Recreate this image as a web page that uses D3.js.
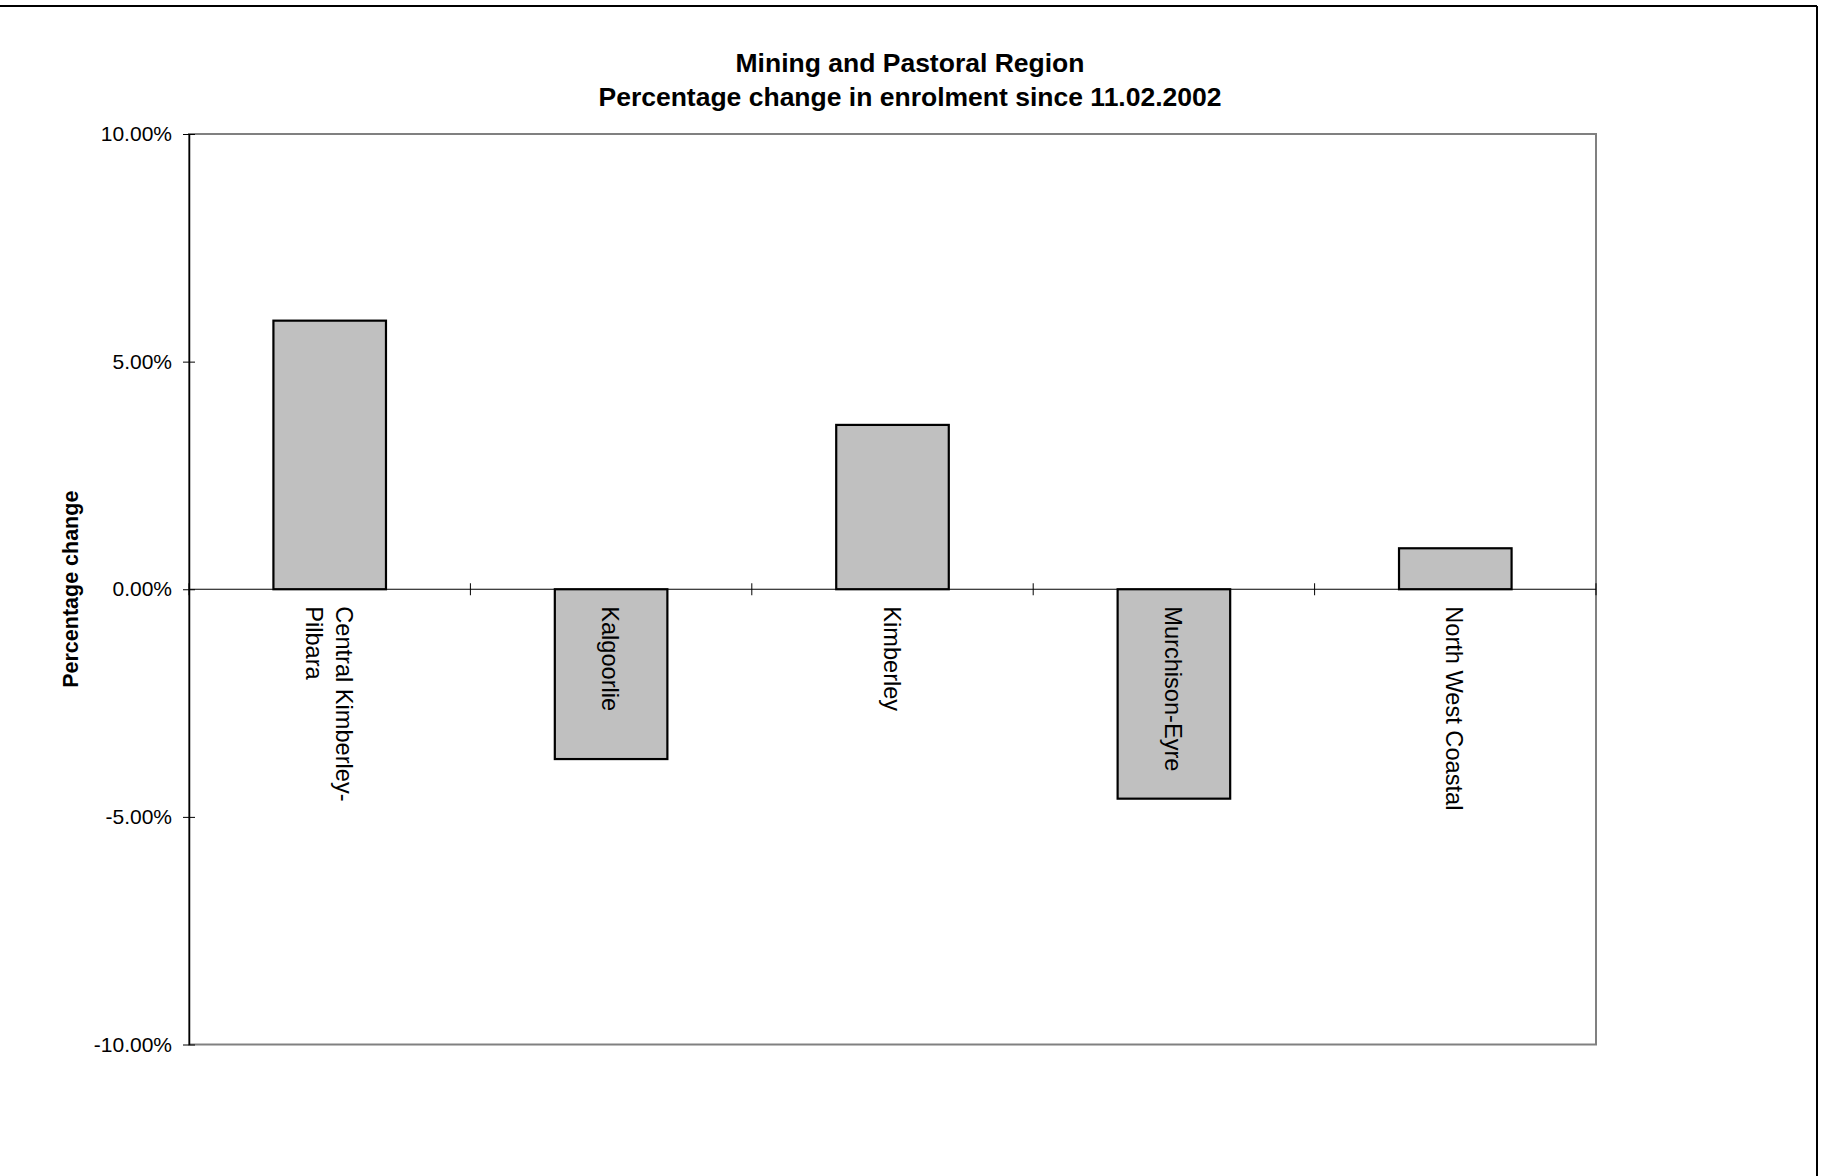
<!DOCTYPE html>
<html>
<head>
<meta charset="utf-8">
<script src="https://cdn.jsdelivr.net/npm/d3@7"></script>
<style>
  html, body { margin: 0; padding: 0; background: #fff; }
  svg { display: block; font-family: "Liberation Sans", Arial, sans-serif; }
</style>
</head>
<body>
<script>
// Chart data
const categories = [
  ['Central Kimberley-', 'Pilbara'],
  ['Kalgoorlie'],
  ['Kimberley'],
  ['Murchison-Eyre'],
  ['North West Coastal']
];
const changeValues = [0.0590, -0.0373, 0.0361, -0.0460, 0.0090];
const yTickValues = [-0.10, -0.05, 0, 0.05, 0.10];
const titleLines = ['Mining and Pastoral Region', 'Percentage change in enrolment since 11.02.2002'];
const yAxisTitle = 'Percentage change';

const width = 1821, height = 1176;
const plot = { left: 189, right: 1596, top: 134, bottom: 1044.5 };

const svg = d3.select('body').append('svg')
  .attr('width', width)
  .attr('height', height);

// Outer frame (top and right edges only visible)
svg.append('line')
  .attr('x1', 0).attr('x2', 1817).attr('y1', 6).attr('y2', 6)
  .attr('stroke', '#000').attr('stroke-width', 2);
svg.append('line')
  .attr('x1', 1817).attr('x2', 1817).attr('y1', 6).attr('y2', height)
  .attr('stroke', '#000').attr('stroke-width', 2);

const keys = categories.map(c => c.join(' '));

const x = d3.scaleBand()
  .domain(keys)
  .range([plot.left, plot.right])
  .paddingInner(0.6)
  .paddingOuter(0.3);

const y = d3.scaleLinear()
  .domain([-0.10, 0.10])
  .range([plot.bottom, plot.top]);

const fmt = d3.formatLocale({
  decimal: '.', thousands: ',', grouping: [3], currency: ['$', ''], minus: '-'
}).format('.2%');

// Plot area border (grey)
svg.append('rect')
  .attr('x', plot.left)
  .attr('y', plot.top)
  .attr('width', plot.right - plot.left)
  .attr('height', plot.bottom - plot.top)
  .attr('fill', 'none')
  .attr('stroke', '#808080')
  .attr('stroke-width', 2);

// Bars
svg.append('g')
  .selectAll('rect')
  .data(changeValues)
  .join('rect')
  .attr('x', (d, i) => x(keys[i]))
  .attr('width', x.bandwidth())
  .attr('y', d => y(Math.max(0, d)))
  .attr('height', d => Math.abs(y(d) - y(0)))
  .attr('fill', '#c0c0c0')
  .attr('stroke', '#000')
  .attr('stroke-width', 2.2);

// Zero line + category ticks
const zeroY = y(0);
svg.append('line')
  .attr('x1', plot.left).attr('x2', plot.right)
  .attr('y1', zeroY).attr('y2', zeroY)
  .attr('stroke', '#000').attr('stroke-width', 1.2);

const boundaries = d3.range(keys.length + 1).map(i => x.range()[0] + i * x.step());
svg.append('g')
  .selectAll('line')
  .data(boundaries)
  .join('line')
  .attr('x1', d => d).attr('x2', d => d)
  .attr('y1', zeroY - 6).attr('y2', zeroY + 6)
  .attr('stroke', '#000').attr('stroke-width', 1);

// Y axis
const yAxis = svg.append('g')
  .attr('transform', `translate(${plot.left},0)`)
  .call(d3.axisLeft(y).tickValues(yTickValues).tickFormat(fmt).tickSize(6).tickSizeOuter(0).tickPadding(11));
yAxis.select('.domain').attr('stroke', '#000').attr('stroke-width', 1.5);
yAxis.selectAll('.tick line').attr('x1', 6).attr('stroke', '#000');
yAxis.selectAll('.tick text')
  .attr('font-size', 21)
  .attr('fill', '#000')
  .attr('font-family', '"Liberation Sans", Arial, sans-serif');

// Category labels (rotated 90deg clockwise)
const labelSize = 23.6;
const lineStep = 30;
const labels = svg.append('g')
  .selectAll('text')
  .data(categories)
  .join('text')
  .attr('transform', (d, i) => `translate(${x(keys[i]) + x.bandwidth() / 2},${zeroY + 17}) rotate(90)`)
  .attr('font-size', labelSize)
  .attr('fill', '#000');
labels.each(function (lines) {
  const t = d3.select(this);
  lines.forEach((line, j) => {
    t.append('tspan')
      .attr('x', 0)
      .attr('y', j * lineStep - (lines.length - 1) / 2 * lineStep + labelSize * 0.38)
      .text(line);
  });
});

// Title
svg.append('g')
  .selectAll('text')
  .data(titleLines)
  .join('text')
  .attr('x', 910)
  .attr('y', (d, i) => 72 + i * 34)
  .attr('text-anchor', 'middle')
  .attr('font-size', 26.5)
  .attr('font-weight', 'bold')
  .attr('fill', '#000')
  .text(d => d);

// Y axis title
svg.append('text')
  .attr('transform', `translate(78,${(plot.top + plot.bottom) / 2}) rotate(-90)`)
  .attr('text-anchor', 'middle')
  .attr('font-size', 21.5)
  .attr('font-weight', 'bold')
  .attr('fill', '#000')
  .text(yAxisTitle);
</script>
</body>
</html>
